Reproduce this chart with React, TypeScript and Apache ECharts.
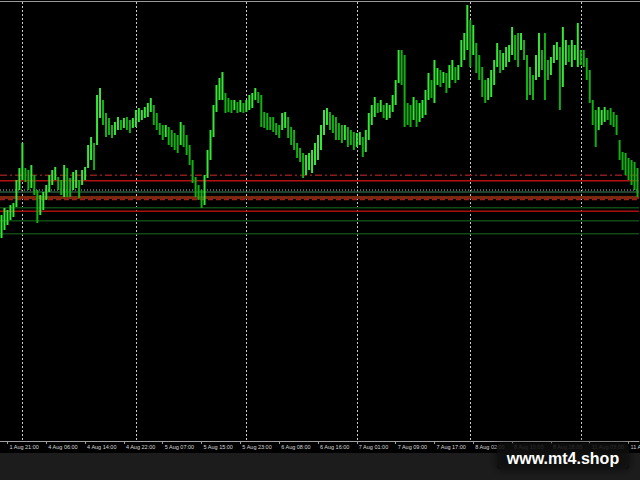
import React, { useEffect, useRef } from "react";
import * as echarts from "echarts";

// Bar highs / lows (price), one per bar
const highs = [
  1.3285, 1.3292, 1.3290, 1.3295, 1.3297, 1.3320, 1.3332, 1.3357, 1.3332, 1.3330,
  1.3335, 1.3325, 1.3310, 1.3305, 1.3308, 1.3315, 1.3325, 1.3330, 1.3333, 1.3323,
  1.3320, 1.3335, 1.3332, 1.3322, 1.3328, 1.3330, 1.3320, 1.3330, 1.3333, 1.3355,
  1.3363, 1.3357, 1.3405, 1.3412, 1.3400, 1.3387, 1.3382, 1.3375, 1.3378, 1.3383,
  1.3380, 1.3382, 1.3383, 1.3380, 1.3382, 1.3390, 1.3392, 1.3390, 1.3393, 1.3397,
  1.3402, 1.3395, 1.3387, 1.3377, 1.3375, 1.3375, 1.3373, 1.3370, 1.3367, 1.3365,
  1.3378, 1.3375, 1.3365, 1.3355, 1.3340, 1.3323, 1.3315, 1.3310, 1.3325, 1.3350,
  1.3370, 1.3395, 1.3415, 1.3422, 1.3428, 1.3407, 1.3402, 1.3400, 1.3400, 1.3398,
  1.3400, 1.3397, 1.3400, 1.3405, 1.3407, 1.3412, 1.3408, 1.3405, 1.3388, 1.3387,
  1.3383, 1.3383, 1.3377, 1.3375, 1.3387, 1.3388, 1.3383, 1.3373, 1.3370, 1.3357,
  1.3352, 1.3347, 1.3345, 1.3347, 1.3350, 1.3357, 1.3365, 1.3375, 1.3390, 1.3392,
  1.3388, 1.3385, 1.3383, 1.3377, 1.3375, 1.3375, 1.3373, 1.3370, 1.3368, 1.3367,
  1.3368, 1.3363, 1.3370, 1.3387, 1.3395, 1.3403, 1.3397, 1.3400, 1.3395, 1.3397,
  1.3395, 1.3405, 1.3420, 1.3450, 1.3450, 1.3445, 1.3397, 1.3395, 1.3403, 1.3400,
  1.3397, 1.3400, 1.3410, 1.3427, 1.3420, 1.3440, 1.3432, 1.3430, 1.3428, 1.3427,
  1.3435, 1.3440, 1.3433, 1.3435, 1.3460, 1.3467, 1.3495, 1.3480, 1.3475, 1.3457,
  1.3445, 1.3433, 1.3420, 1.3422, 1.3430, 1.3440, 1.3457, 1.3450, 1.3447, 1.3453,
  1.3455, 1.3473, 1.3465, 1.3467, 1.3467, 1.3460, 1.3445, 1.3433, 1.3425, 1.3445,
  1.3467, 1.3450, 1.3467, 1.3440, 1.3443, 1.3455, 1.3458, 1.3453, 1.3473, 1.3460,
  1.3455, 1.3460, 1.3455, 1.3477, 1.3450, 1.3450, 1.3442, 1.3430, 1.3400, 1.3390,
  1.3393, 1.3390, 1.3393, 1.3390, 1.3392, 1.3388, 1.3385, 1.3360, 1.3348, 1.3347,
  1.3342, 1.3340, 1.3338, 1.3332,
];

const lows = [
  1.3262, 1.3270, 1.3275, 1.3280, 1.3283, 1.3293, 1.3310, 1.3320, 1.3318, 1.3310,
  1.3312, 1.3305, 1.3277, 1.3285, 1.3290, 1.3300, 1.3308, 1.3315, 1.3320, 1.3310,
  1.3305, 1.3303, 1.3303, 1.3303, 1.3310, 1.3312, 1.3302, 1.3315, 1.3320, 1.3332,
  1.3340, 1.3330, 1.3355, 1.3382, 1.3375, 1.3363, 1.3365, 1.3362, 1.3365, 1.3370,
  1.3370, 1.3372, 1.3370, 1.3367, 1.3372, 1.3373, 1.3378, 1.3380, 1.3382, 1.3383,
  1.3388, 1.3375, 1.3370, 1.3365, 1.3360, 1.3363, 1.3355, 1.3353, 1.3350, 1.3347,
  1.3355, 1.3353, 1.3345, 1.3335, 1.3317, 1.3303, 1.3300, 1.3292, 1.3295, 1.3322,
  1.3340, 1.3363, 1.3388, 1.3400, 1.3400, 1.3387, 1.3388, 1.3387, 1.3390, 1.3387,
  1.3388, 1.3387, 1.3388, 1.3390, 1.3392, 1.3400, 1.3397, 1.3373, 1.3372, 1.3370,
  1.3370, 1.3368, 1.3365, 1.3362, 1.3370, 1.3372, 1.3362, 1.3355, 1.3350, 1.3342,
  1.3338, 1.3322, 1.3325, 1.3330, 1.3327, 1.3335, 1.3340, 1.3350, 1.3365, 1.3375,
  1.3370, 1.3367, 1.3360, 1.3360, 1.3357, 1.3360, 1.3353, 1.3355, 1.3350, 1.3353,
  1.3355, 1.3343, 1.3348, 1.3360, 1.3375, 1.3383, 1.3387, 1.3388, 1.3382, 1.3380,
  1.3382, 1.3388, 1.3395, 1.3417, 1.3415, 1.3373, 1.3375, 1.3373, 1.3380, 1.3373,
  1.3378, 1.3382, 1.3385, 1.3400, 1.3402, 1.3397, 1.3415, 1.3413, 1.3417, 1.3407,
  1.3412, 1.3420, 1.3417, 1.3420, 1.3433, 1.3440, 1.3450, 1.3433, 1.3445, 1.3427,
  1.3420, 1.3403, 1.3397, 1.3400, 1.3403, 1.3415, 1.3433, 1.3427, 1.3430, 1.3433,
  1.3438, 1.3445, 1.3440, 1.3433, 1.3450, 1.3440, 1.3400, 1.3405, 1.3400, 1.3420,
  1.3423, 1.3430, 1.3400, 1.3420, 1.3425, 1.3437, 1.3440, 1.3390, 1.3413, 1.3435,
  1.3438, 1.3433, 1.3440, 1.3433, 1.3435, 1.3433, 1.3420, 1.3397, 1.3375, 1.3353,
  1.3370, 1.3375, 1.3378, 1.3380, 1.3375, 1.3373, 1.3365, 1.3340, 1.3330, 1.3325,
  1.3320, 1.3315, 1.3310, 1.3303,
];

// Time-scale labels, one every 13 bars starting at bar 2
const tickLabels = [
  "1 Aug 21:00", "4 Aug 06:00", "4 Aug 14:00", "4 Aug 22:00", "5 Aug 07:00",
  "5 Aug 15:00", "5 Aug 23:00", "6 Aug 08:00", "6 Aug 16:00", "7 Aug 01:00",
  "7 Aug 09:00", "7 Aug 17:00", "8 Aug 02:00", "8 Aug 10:00", "8 Aug 18:00",
  "11 Aug 03:00", "11 Aug 11:00",
];
const labelStart = 2;
const labelEvery = 13;

// Bars where the vertical grid lines sit
const gridBars = [7, 45, 82, 119, 157, 194];

// Horizontal level lines (price)
const levelPrices = [1.33247, 1.33193, 1.3310, 1.3308, 1.33025, 1.33005, 1.32923, 1.32887, 1.32793, 1.32663];
const levelStyles = [
  { color: "#8c1c1c", width: 1.5, dash: [7, 3, 2, 3] },
  { color: "#b41212", width: 1.5, dash: null },
  { color: "#b8b8b8", width: 1, dash: [1, 2] },
  { color: "#2c5a3c", width: 1.5, dash: null },
  { color: "#7a2810", width: 3, dash: null },
  { color: "#9c2018", width: 1.5, dash: [5, 3] },
  { color: "#0f4a14", width: 1.5, dash: null },
  { color: "#a81010", width: 1.5, dash: null },
  { color: "#0f4a14", width: 1.5, dash: null },
  { color: "#0f4a14", width: 1.5, dash: null },
];

export default function App() {
  const ref = useRef<HTMLDivElement>(null);

  useEffect(() => {
    if (!ref.current) return;
    const chart = echarts.init(ref.current, undefined, { renderer: "svg" });

    const categories = highs.map((_, i) => String(i));
    const barData = highs.map((h, i) => {
      const mid = (h + lows[i]) / 2;
      const prev = i > 0 ? (highs[i - 1] + lows[i - 1]) / 2 : mid;
      return [i, h, lows[i], mid >= prev ? 1 : 0];
    });

    const isLabel = (index: number) => index >= labelStart && (index - labelStart) % labelEvery === 0;

    const renderBar = (params: any, api: any) => {
      const i = api.value(0);
      const hi = api.coord([i, api.value(1)]);
      const lo = api.coord([i, api.value(2)]);
      const up = api.value(3);
      return {
        type: "rect",
        shape: { x: hi[0] - 1, y: hi[1], width: 2, height: Math.max(1, lo[1] - hi[1]) },
        style: { fill: up ? "#36e636" : "#12b012" },
      };
    };

    const renderLevel = (params: any, api: any) => {
      const cs = params.coordSys;
      const k = params.dataIndex;
      const y = api.coord([0, api.value(1)])[1];
      const st = levelStyles[k];
      return {
        type: "line",
        shape: { x1: cs.x, y1: y, x2: cs.x + cs.width, y2: y },
        style: { stroke: st.color, lineWidth: st.width, lineDash: st.dash || undefined },
      };
    };

    const renderGrid = (params: any, api: any) => {
      const cs = params.coordSys;
      const x = Math.round(api.coord([api.value(0), 1.33])[0]) + 0.5;
      return {
        type: "line",
        shape: { x1: x, y1: cs.y, x2: x, y2: cs.y + cs.height },
        style: { stroke: "#c8c8c8", lineWidth: 1, lineDash: [2, 2] },
      };
    };

    chart.setOption({
      animation: false,
      backgroundColor: "#000000",
      grid: { left: 0, right: 1, top: 2, bottom: 39, containLabel: false, outerBoundsMode: "none" },
      xAxis: {
        type: "category",
        data: categories,
        boundaryGap: true,
        axisLine: { show: true, lineStyle: { color: "#a0a0a0", width: 1 } },
        axisTick: {
          show: true,
          alignWithLabel: true,
          interval: (index: number) => isLabel(index),
          length: 3,
          lineStyle: { color: "#a0a0a0" },
        },
        axisLabel: {
          show: true,
          interval: (index: number) => isLabel(index),
          formatter: (_v: string, index: number) => tickLabels[(index - labelStart) / labelEvery] ?? "",
          align: "left",
          color: "#d8d8d8",
          fontSize: 5.5,
          fontFamily: "Liberation Sans",
          margin: 3,
          padding: [0, 0, 0, 2],
        },
        splitLine: { show: false },
      },
      yAxis: {
        type: "value",
        min: 1.3059,
        max: 1.3498,
        show: false,
        splitLine: { show: false },
      },
      series: [
        {
          type: "custom",
          renderItem: renderGrid,
          data: gridBars.map((b) => [b, 1.33]),
          encode: { x: 0, y: 1 },
          silent: true,
          z: 1,
        },
        {
          type: "custom",
          renderItem: renderLevel,
          data: levelPrices.map((p, k) => [k, p]),
          encode: { x: 0, y: 1 },
          silent: true,
          z: 1,
        },
        {
          type: "custom",
          renderItem: renderBar,
          data: barData,
          encode: { x: 0, y: [1, 2] },
          z: 3,
        },
      ],
      graphic: [
        {
          type: "line",
          shape: { x1: 0, y1: 1.5, x2: 640, y2: 1.5 },
          style: { stroke: "#9a9a9a", lineWidth: 1 },
          z: 50,
        },
        {
          type: "rect",
          shape: { x: 0, y: 453, width: 640, height: 27 },
          style: { fill: "#1c1c1c" },
          z: 10,
        },
        {
          type: "rect",
          shape: { x: 497, y: 443, width: 132, height: 26, r: 3 },
          style: {
            fill: "rgba(10,10,10,0.72)",
            shadowBlur: 8,
            shadowColor: "rgba(0,0,0,0.9)",
          },
          z: 100,
        },
        {
          type: "text",
          x: 563,
          y: 458,
          style: {
            text: "www.mt4.shop",
            fill: "#ffffff",
            font: 'bold 16px "Liberation Sans", Arial, sans-serif',
            textAlign: "center",
            textVerticalAlign: "middle",
          },
          z: 101,
        },
      ],
    });

    return () => chart.dispose();
  }, []);

  return (
    <div
      ref={ref}
      style={{ position: "fixed", left: 0, top: 0, width: 640, height: 480 }}
    />
  );
}
